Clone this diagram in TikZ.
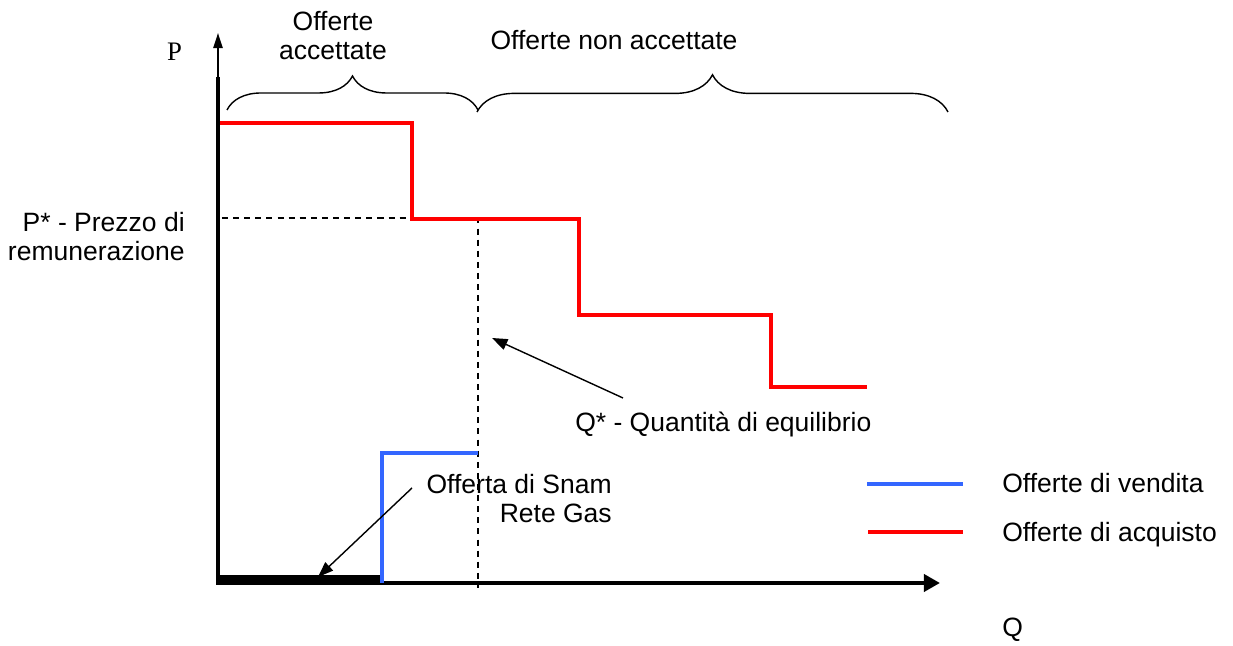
\documentclass[tikz,border=0pt]{standalone}
\usepackage{fontspec}
\setmainfont{Liberation Sans}
\newfontfamily\axisfont{Liberation Serif}
\usepackage{tikz}
\usepackage{xcolor}
\usetikzlibrary{arrows.meta,decorations.pathreplacing}

\definecolor{venditablue}{RGB}{51,102,255}
\definecolor{acquistored}{RGB}{255,0,0}

\begin{document}
\begin{tikzpicture}[
    >={Triangle[length=11pt,width=8pt]},
    lbl/.style={inner sep=0pt,font=\fontsize{18.85}{21.3}\selectfont},
    offer/.style={line width=2.5pt},
    pointer/.style={->,line width=1pt},
    bracket/.style={decorate,line width=1pt,decoration={brace,amplitude=#1}}
  ]
                \useasboundingbox (-5.45,-1.575) rectangle (25.375,14.575);

                \coordinate (o) at (0,0);
                \coordinate (ymid) at (0,12.65);
                \coordinate (ytop) at (0,13.75);
                \coordinate (xend) at (18.05,0);
                \coordinate (eq) at (6.5,9.125);

                % axes
                \draw[line width=3.2pt,-{Triangle[length=11.4pt,width=12pt]}] (ymid) -- (o) -- (xend);
                \draw[line width=1.4pt,-{Triangle[length=10.7pt,width=6.5pt]}] (ymid) -- (ytop);
                \node[inner sep=0pt,anchor=base,font=\axisfont\fontsize{19}{22}\selectfont] (p) at (-1.0875,13.05) {P};
                \node[lbl,anchor=base west] (q) at (19.6,-1.35) {Q};

                % equilibrium
                \draw[line width=1pt,dash pattern=on 4.3pt off 3.6pt] (0.1,9.125) -- (eq) -- (6.5,-0.125);

                % offers
                \draw[line width=5pt] (0,0.1) -- (4.1,0.1);
                \draw[offer,venditablue] (4.1,0) -- (4.1,3.25) -- (6.5,3.25);
                \draw[offer,acquistored] (0.05,11.5) -- (4.85,11.5) -- (4.85,9.1) -- (9.025,9.1)
                    -- (9.025,6.7) -- (13.825,6.7) -- (13.825,4.9) -- (16.225,4.9);

                % braces
                \draw[bracket=0.85cm] (0.225,11.825) -- (6.5,11.825);
                \draw[bracket=0.93cm] (6.475,11.775) -- (18.25,11.775);
                \node[lbl,anchor=base,align=center] (acc) at (2.875,13.075) {Offerte\\accettate};
                \node[lbl,anchor=base] (nonacc) at (9.9,13.325) {Offerte non accettate};

                % labels and pointers
                \node[lbl,anchor=base east,align=right] (pstar) at (-0.825,8.05) {P* - Prezzo di\\remunerazione};
                \node[lbl,anchor=base west] (qstar) at (8.925,3.775) {Q* - Quantità di equilibrio};
                \node[lbl,anchor=base east,align=right] (snam) at (9.85,1.5) {Offerta di Snam\\Rete Gas};
                \coordinate (qs) at (10.125,4.625);
                \coordinate (qe) at (6.85,6.125);
                \coordinate (ss) at (4.85,2.375);
                \coordinate (se) at (2.5,0.15);
                \draw[pointer] (qs) -- (qe);
                \draw[pointer] (ss) -- (se);

                % legend
                \coordinate (l1) at (16.225,2.475);
                \coordinate (l2) at (16.25,1.275);
                \draw[offer,venditablue] (l1) -- +(2.4,0);
                \draw[offer,acquistored] (l2) -- +(2.375,0);
                \node[lbl,anchor=base west] (leg1) at (19.6,2.25) {Offerte di vendita};
                \node[lbl,anchor=base west] (leg2) at (19.6,1.025) {Offerte di acquisto};
            \end{tikzpicture}
\end{document}
